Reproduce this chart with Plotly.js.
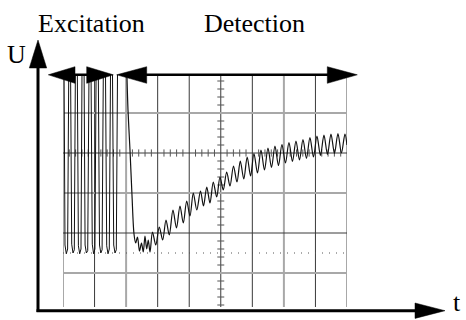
<!DOCTYPE html>
<html>
<head>
<meta charset="utf-8">
<script src="https://cdn.plot.ly/plotly-3.0.1.min.js"></script>
<style>html,body{margin:0;padding:0;background:#fff;}#chart{width:466px;height:320px;}</style>
</head>
<body>
<div id="chart"></div>
<script>
// ---- Data (time in screen divisions, voltage in divisions; 0 = centre line) ----
const excitationT = [0.006, 0.063, 0.105, 0.146, 0.211, 0.276, 0.317, 0.358, 0.423, 0.488, 0.529, 0.570, 0.635, 0.700, 0.741, 0.783, 0.856, 0.928, 0.970, 1.011, 1.084, 1.157, 1.198, 1.239, 1.312, 1.385, 1.426, 1.467, 1.537, 1.607, 1.648, 1.689, 1.762];
const excitationU = [6.0, -2.30, -2.52, -2.40, 5.5, -2.28, -2.50, -2.42, 6.0, -2.32, -2.52, -2.40, 6.5, -2.30, -2.50, -2.44, 5.5, -2.28, -2.52, -2.40, 6.0, -2.30, -2.50, -2.42, 6.0, -2.32, -2.52, -2.40, 5.5, -2.30, -2.50, -2.42, 6.0];

const detectionT = [2.012, 2.060, 2.123, 2.186, 2.250, 2.303, 2.361, 2.424, 2.487, 2.544, 2.598, 2.652, 2.703, 2.757, 2.836, 2.940, 3.051, 3.159, 3.264, 3.368, 3.485, 3.596, 3.707, 3.812, 3.920, 4.024, 4.129, 4.240, 4.357, 4.452, 4.556, 4.658, 4.762, 4.870, 4.975, 5.079, 5.187, 5.292, 5.403, 5.513, 5.618, 5.729, 5.837, 5.944, 6.052, 6.163, 6.274, 6.385, 6.496, 6.607, 6.717, 6.828, 6.939, 7.050, 7.161, 7.272, 7.383, 7.494, 7.605, 7.715, 7.826, 7.937, 8.048, 8.159, 8.270, 8.381, 8.492, 8.603, 8.713, 8.824, 8.935, 8.999];
const detectionU = [2.33, 1.075, 0.075, -1.05, -2.025, -2.25, -2.10, -2.45, -2.25, -2.475, -2.075, -2.40, -2.175, -2.475, -1.975, -2.30, -1.85, -2.175, -1.675, -2.05, -1.425, -1.875, -1.325, -1.75, -1.20, -1.575, -1.00, -1.425, -0.95, -1.325, -0.85, -1.25, -0.725, -1.10, -0.60, -0.925, -0.475, -0.825, -0.325, -0.725, -0.20, -0.65, -0.10, -0.575, -0.0125, -0.50, 0.075, -0.425, 0.125, -0.3625, 0.175, -0.3125, 0.2125, -0.25, 0.2625, -0.2125, 0.30, -0.175, 0.3375, -0.1375, 0.3875, -0.10, 0.425, -0.0625, 0.45, -0.0375, 0.475, -0.0125, 0.4875, 0.0, 0.475, 0.20];

const gridXGray = [0, 2, 7, 9];
const gridXDark = [1, 3, 4, 5, 6, 8];
const gridYGray = [1, -1, -3];
const gridYDark = [0, -2];
const baselineU = -2.5;
const labels = {exc: "Excitation", det: "Detection", u: "U", t: "t"};

// ---- Layout geometry ----
const W = 466, H = 320;
const L = 63, R = 347, T = 75, B = 307;
const X_RANGE = [0, 9], Y_RANGE = [-3.85, 1.95];
const px = v => (v - L) / (R - L);      // pixel x -> paper
const py = v => (B - v) / (B - T);      // pixel y -> paper

const shapes = [];
function vline(x, color, w) {
  shapes.push({type: 'line', xref: 'x', yref: 'paper', x0: x, x1: x, y0: 0, y1: 1, layer: 'below', line: {color: color, width: w}});
}
function hline(y, color, w) {
  shapes.push({type: 'line', xref: 'paper', yref: 'y', x0: 0, x1: 1, y0: y, y1: y, layer: 'below', line: {color: color, width: w}});
}
gridXGray.forEach(x => vline(x, '#a8a8a8', 2));
gridXDark.forEach(x => vline(x, '#3a3a3a', 1));
gridYGray.forEach(y => hline(y, '#a8a8a8', 2));
gridYDark.forEach(y => hline(y, '#3a3a3a', 1));

// minor tick marks on the centre lines
for (let k = -19; k <= 9; k++) {
  if (k % 5 === 0) continue;
  const y = k * 0.2;
  shapes.push({type: 'line', xref: 'x', yref: 'y', x0: 4.89, x1: 5.11, y0: y, y1: y, layer: 'below', line: {color: '#555', width: 1}});
}
for (let k = 1; k < 45; k++) {
  if (k % 5 === 0) continue;
  const x = k * 0.2;
  shapes.push({type: 'line', xref: 'x', yref: 'y', x0: x, x1: x, y0: -0.09, y1: 0.09, layer: 'below', line: {color: '#555', width: 1}});
}
// dotted baseline
shapes.push({type: 'line', xref: 'paper', yref: 'y', x0: 0, x1: 1, y0: baselineU, y1: baselineU, layer: 'below', line: {color: '#555', width: 1, dash: '1px,6px'}});

// arrows (decoration, paper coordinates)
function seg(x0, y0, x1, y1, w) {
  shapes.push({type: 'line', xref: 'paper', yref: 'paper', x0: px(x0), y0: py(y0), x1: px(x1), y1: py(y1), layer: 'above', line: {color: '#000', width: w}});
}
function tri(a, b, c) {
  const p = `M${px(a[0])},${py(a[1])} L${px(b[0])},${py(b[1])} L${px(c[0])},${py(c[1])} Z`;
  shapes.push({type: 'path', xref: 'paper', yref: 'paper', path: p, fillcolor: '#000', layer: 'above', line: {color: '#000', width: 0.5}});
}
const ay = 74.8;
seg(60, ay, 100, ay, 2.5);
tri([48.3, ay], [75, 66.7], [75, 83.3]);
tri([113.3, ay], [86.7, 66.7], [86.7, 83.3]);
seg(130, ay, 340, ay, 2.5);
tri([116.7, ay], [146.7, 66.7], [146.7, 83.3]);
tri([357.3, ay], [327.3, 66.7], [327.3, 83.3]);
// U axis
seg(38, 312, 38, 62, 3);
tri([38, 40], [29.3, 68], [46.7, 68]);
// t axis
seg(36.5, 310.7, 420, 310.7, 3);
tri([445, 310.7], [415, 303], [415, 318.4]);

const font = {family: "Liberation Serif, Times New Roman, Times, serif", size: 26, color: '#000'};
const annotations = [
  {text: labels.exc, x: px(91), y: py(24), xref: 'paper', yref: 'paper', showarrow: false, xanchor: 'center', yanchor: 'middle', font: font},
  {text: labels.det, x: px(254), y: py(24), xref: 'paper', yref: 'paper', showarrow: false, xanchor: 'center', yanchor: 'middle', font: font},
  {text: labels.u, x: px(16), y: py(55), xref: 'paper', yref: 'paper', showarrow: false, xanchor: 'center', yanchor: 'middle', font: font},
  {text: labels.t, x: px(462), y: py(318), xref: 'paper', yref: 'paper', showarrow: false, xanchor: 'right', yanchor: 'bottom', borderpad: 0, font: font}
];

const traces = [
  {x: excitationT, y: excitationU, type: 'scatter', mode: 'lines', line: {color: '#111', width: 1}, hoverinfo: 'skip'},
  {x: detectionT, y: detectionU, type: 'scatter', mode: 'lines', line: {color: '#111', width: 1.2, shape: 'spline', smoothing: 0.9}, hoverinfo: 'skip'}
];

const layout = {
  width: W, height: H,
  margin: {l: L, r: W - R, t: T, b: H - B, pad: 0},
  paper_bgcolor: '#fff', plot_bgcolor: '#fff',
  showlegend: false,
  xaxis: {range: X_RANGE, showgrid: false, zeroline: false, showticklabels: false, ticks: '', showline: false, fixedrange: true},
  yaxis: {range: Y_RANGE, showgrid: false, zeroline: false, showticklabels: false, ticks: '', showline: false, fixedrange: true},
  shapes: shapes,
  annotations: annotations
};

Plotly.newPlot('chart', traces, layout, {staticPlot: true, displayModeBar: false});
</script>
</body>
</html>
